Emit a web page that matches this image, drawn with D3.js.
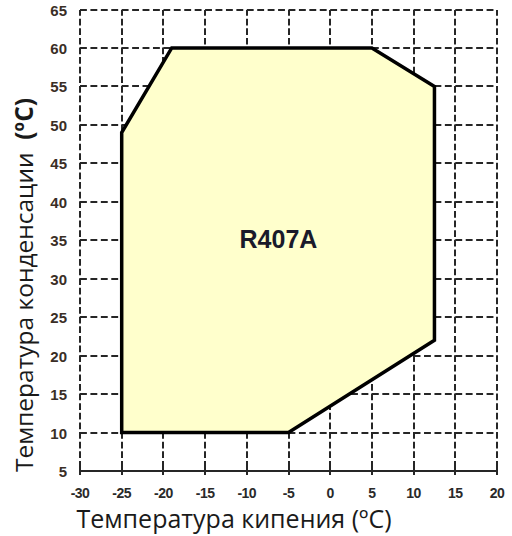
<!DOCTYPE html>
<meta charset="utf-8">
<head>
    <title>R407A</title>
    <script type="text/javascript" src="https://d3js.org/d3.v7.min.js"></script>
    <style type="text/css">
        body { margin: 0; background: #fff; }
        svg { display: block; }
    </style>
</head>
<body>
    <div id="chart"></div>
    <script>
        // data
        var refrigerant = "R407A";
        var evapTemps = [-25, -25, -19, 5, 12.5, 12.5, -5];   // температура кипения
        var condTemps = [10, 49, 60, 60, 55, 22, 10];         // температура конденсации
        var xTicks = [-30, -25, -20, -15, -10, -5, 0, 5, 10, 15, 20];
        var yTicks = [5, 10, 15, 20, 25, 30, 35, 40, 45, 50, 55, 60, 65];
        var xTitle = "Температура кипения (ºС)";
        var yTitle = "Температура конденсации";
        var yUnit = "(ºC)";

        var width = 512, height = 536;
        var svg = d3.select("#chart").append("svg")
            .attr("width", width)
            .attr("height", height);

        var x = d3.scaleLinear().domain([-30, 20]).range([80, 497]);
        var y = d3.scaleLinear().domain([5, 65]).range([471, 9.5]);
        var rx = d => Math.round(x(d)), ry = d => Math.round(y(d));

        // dashed grid, a dash sitting on every crossing
        var px = (x(-25) - x(-30)) / 4, py = (y(5) - y(10)) / 4;
        var grid = svg.append("g")
            .attr("stroke", "#262626")
            .attr("stroke-width", 2)
            .attr("fill", "none");
        grid.selectAll(".v").data(xTicks).enter().append("line")
            .attr("x1", rx).attr("x2", rx)
            .attr("y1", ry(65)).attr("y2", ry(5))
            .attr("stroke-dasharray", (py * 0.7) + "," + (py * 0.3))
            .attr("stroke-dashoffset", py * 0.1);
        grid.selectAll(".h").data(yTicks.slice(1)).enter().append("line")
            .attr("y1", ry).attr("y2", ry)
            .attr("x1", rx(-30)).attr("x2", rx(20))
            .attr("stroke-dasharray", (px * 0.66) + "," + (px * 0.34))
            .attr("stroke-dashoffset", 0);

        // bottom axis: solid line with ticks
        svg.append("line")
            .attr("x1", rx(-30) - 1).attr("x2", rx(20) + 1)
            .attr("y1", ry(5)).attr("y2", ry(5))
            .attr("stroke", "#262626").attr("stroke-width", 2);
        svg.selectAll(".xt").data(xTicks).enter().append("line")
            .attr("x1", rx).attr("x2", rx)
            .attr("y1", ry(5) - 5).attr("y2", ry(5) + 4)
            .attr("stroke", "#262626").attr("stroke-width", 2);

        // envelope
        var pts = evapTemps.map((t, i) => [x(t), y(condTemps[i])]);
        svg.append("path")
            .attr("d", d3.line()(pts) + "Z")
            .attr("fill", "#ffffcc")
            .attr("stroke", "#000")
            .attr("stroke-width", 3.5)
            .attr("stroke-linejoin", "miter");

        svg.append("text")
            .attr("x", x(-6.2)).attr("y", y(34))
            .attr("text-anchor", "middle")
            .style("font-family", "'Liberation Sans', Arial, sans-serif")
            .style("font-weight", "bold")
            .style("font-size", "25px")
            .attr("fill", "#1a1a2a")
            .text(refrigerant);

        // tick labels
        svg.selectAll(".xl").data(xTicks).enter().append("text")
            .attr("x", d => x(d)).attr("y", 497.5)
            .attr("text-anchor", "middle")
            .style("font-family", "'Liberation Sans', Arial, sans-serif")
            .style("font-size", "14px")
            .style("font-weight", "bold")
            .style("letter-spacing", "-0.5px")
            .attr("fill", "#2a2a2a")
            .text(d => d);
        svg.selectAll(".yl").data(yTicks).enter().append("text")
            .attr("x", 67).attr("y", d => y(d) + 6)
            .attr("text-anchor", "end")
            .style("font-family", "'Liberation Sans', Arial, sans-serif")
            .style("font-size", "15px")
            .style("font-weight", "bold")
            .attr("fill", "#3a2e26")
            .text(d => d);

        // axis titles
        svg.append("text")
            .attr("x", 234).attr("y", 528)
            .attr("text-anchor", "middle")
            .style("font-family", "'Open Sans', Lato, sans-serif")
            .style("font-size", "25px")
            .attr("fill", "#1a1a1a")
            .text(xTitle);
        var yt = svg.append("text")
            .attr("transform", "translate(33,285) rotate(-90)")
            .attr("text-anchor", "middle")
            .style("font-family", "'Open Sans', Lato, sans-serif")
            .style("font-size", "24.5px")
            .attr("fill", "#1a1a1a")
            .attr("xml:space", "preserve");
        yt.append("tspan").text(yTitle + "  ");
        yt.append("tspan").style("font-weight", "bold").text(yUnit);
    </script>
</body>
</html>
